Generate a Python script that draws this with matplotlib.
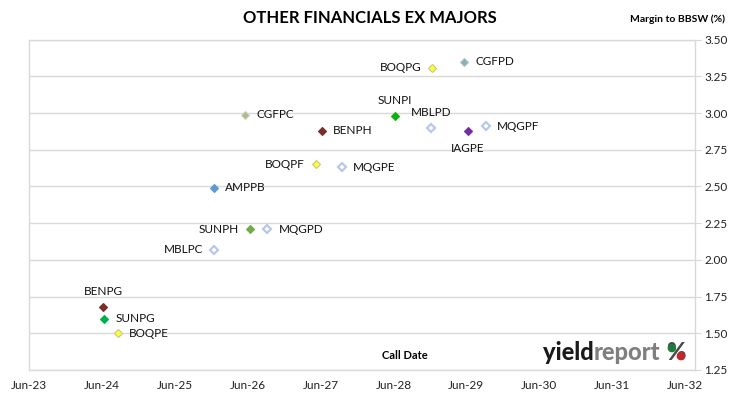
import matplotlib
matplotlib.use("Agg")
import matplotlib.pyplot as plt
import matplotlib.dates as mdates
from datetime import date

plt.rcParams['font.family'] = ['Lato', 'DejaVu Sans']

# securities, call dates and margins
names = ['BENPG', 'SUNPG', 'BOQPE', 'MBLPC', 'AMPPB', 'CGFPC', 'SUNPH', 'MQGPD',
         'BOQPF', 'BENPH', 'MQGPE', 'SUNPI', 'MBLPD', 'BOQPG', 'CGFPD', 'IAGPE', 'MQGPF']
call_dates = ['2024-06-08', '2024-06-12', '2024-08-18', '2025-12-15', '2025-12-12',
              '2026-05-20', '2026-06-12', '2026-09-08', '2027-05-10', '2027-06-08',
              '2027-09-15', '2028-06-08', '2028-12-05', '2028-12-12', '2029-05-20',
              '2029-06-08', '2029-09-06']
margins = [1.68, 1.60, 1.50, 2.07, 2.49, 2.99, 2.21, 2.21,
           2.65, 2.88, 2.63, 2.98, 2.90, 3.31, 3.35, 2.88, 2.91]
label_pos = ['above', 'right', 'right', 'left', 'right', 'right', 'left', 'right',
             'left', 'right', 'right', 'above', 'above', 'left', 'right', 'below', 'right']

y_ticks = [1.25, 1.50, 1.75, 2.00, 2.25, 2.50, 2.75, 3.00, 3.25, 3.50]
x_tick_years = list(range(2023, 2033))

# marker styles by issuer prefix
styles = {
    'BEN': dict(mfc='#7B2D2A', mec='#7B2D2A', ms=4.2, mew=0.8),
    'SUNPG': dict(mfc='#00B050', mec='#00B050', ms=4.2, mew=0.8),
    'SUNPH': dict(mfc='#70AD47', mec='#70AD47', ms=4.2, mew=0.8),
    'SUNPI': dict(mfc='#10B010', mec='#10B010', ms=4.2, mew=0.8),
    'BOQ': dict(mfc='#FFFF3A', mec='#C8C87A', ms=4.2, mew=0.8),
    'MQG': dict(mfc='white', mec='#B4C7E7', ms=4.3, mew=1.5),
    'MBL': dict(mfc='white', mec='#B4C7E7', ms=4.3, mew=1.5),
    'AMP': dict(mfc='#5B9BD5', mec='#5B9BD5', ms=4.2, mew=0.8),
    'CGFPC': dict(mfc='#A9BC8C', mec='#C9D3C0', ms=4.2, mew=0.8),
    'CGFPD': dict(mfc='#8FB0A0', mec='#A8C4E0', ms=4.2, mew=0.8),
    'IAG': dict(mfc='#7030A0', mec='#7030A0', ms=4.2, mew=0.8),
}


def style_for(n):
    if n in styles:
        return styles[n]
    return styles[n[:3]]


offsets = {'above': ((0, 11), 'center', 'center'),
           'below': ((0, -13), 'center', 'center'),
           'right': ((8, 0), 'left', 'center'),
           'left': ((-8, 0), 'right', 'center')}

fig = plt.figure(figsize=(7.30, 3.99), dpi=100)
ax = fig.add_axes([0.0397, 0.0727, 0.912, 0.828])

dts = [date.fromisoformat(d) for d in call_dates]
for n, d, m, p in zip(names, dts, margins, label_pos):
    ax.plot([d], [m], linestyle='None', marker='D', zorder=3, **style_for(n))
    off, ha, va = offsets[p]
    ax.annotate(n, xy=(d, m), xytext=off, textcoords='offset points',
                ha=ha, va=va, fontsize=8.5, color='#111111')

ax.set_xlim(date(2023, 6, 1), date(2032, 7, 20))
ax.set_ylim(1.25, 3.50)
ax.set_yticks(y_ticks)
ax.set_yticklabels(['%.2f' % v for v in y_ticks])
ax.set_xticks([date(y, 6, 1) for y in x_tick_years])
ax.xaxis.set_major_formatter(mdates.DateFormatter('%b-%y'))

ax.yaxis.tick_right()
ax.grid(axis='y', color='#D9D9D9', linewidth=1)
ax.set_axisbelow(True)
for s in ax.spines.values():
    s.set_color('#D9D9D9')
    s.set_linewidth(1)
ax.tick_params(axis='y', length=4, color='#D9D9D9', labelsize=8.5, labelcolor='#222222', pad=3)
ax.tick_params(axis='x', length=0, labelsize=8.5, labelcolor='#222222', pad=7)

fig.text(0.507, 0.955, 'OTHER FINANCIALS EX MAJORS', ha='center', va='center',
         fontsize=12, fontweight='bold', color='black')
fig.text(0.993, 0.953, 'Margin to BBSW (%)', ha='right', va='center',
         fontsize=7.5, fontweight='bold', color='black')
ax.text(0.564, 0.045, 'Call Date', transform=ax.transAxes, ha='center', va='center',
        fontsize=8, fontweight='bold', color='black')

# yieldreport logo
t1 = fig.text(0.744, 0.088, 'yield', ha='left', va='bottom', fontsize=17,
              fontweight='black', color='#1A1A1A')
t2 = ax.annotate('report', xy=(1, 0), xycoords=t1, ha='left', va='bottom',
                 fontsize=17, fontweight='black', color='#7F7F7F', annotation_clip=False)
t3 = ax.annotate('%', xy=(1, 0), xycoords=t2, xytext=(4, 0), textcoords='offset points',
                 ha='left', va='bottom', fontsize=17, fontweight='black',
                 color='#4A4A4A', annotation_clip=False)
ax.annotate('\u25CF', xy=(0.25, 0.72), xycoords=t3, ha='center', va='center',
            fontsize=8, color='#1E7B3A', family='DejaVu Sans', annotation_clip=False)
ax.annotate('\u25CF', xy=(0.76, 0.36), xycoords=t3, ha='center', va='center',
            fontsize=8, color='#C0282D', family='DejaVu Sans', annotation_clip=False)

fig.savefig('out.png', dpi=100)
